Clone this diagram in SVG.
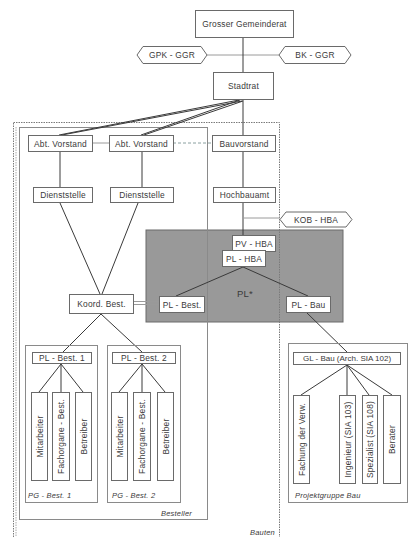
<svg xmlns="http://www.w3.org/2000/svg" width="419" height="537" viewBox="0 0 419 537">
<style>
text{font-family:"Liberation Sans",Arial,sans-serif;font-size:8.4px;letter-spacing:0.2px;fill:#3a3a3a;text-anchor:middle;dominant-baseline:central}
.box{fill:#fff;stroke:#6a6a6a;stroke-width:1}
.hex{fill:#fff;stroke:#6a6a6a;stroke-width:1}
.grp{fill:none;stroke:#8a8a8a;stroke-width:1}
.lbl{font-style:italic;text-anchor:start}
.lblr{font-style:italic;text-anchor:end}
.ln{stroke:#3a3a3a;stroke-width:1;fill:none}
.lt{stroke:#9a9a9a;stroke-width:1;fill:none}
.dash{stroke:#8aa0a0;stroke-width:1;stroke-dasharray:3 2;fill:none}
</style>
<rect width="419" height="537" fill="#fff"/>

<g id="pl-area">
<rect x="146" y="230" width="197" height="92" fill="#999999" stroke="#6a6a6a"/>
<text x="245" y="293" style="font-size:9.5px">PL*</text>
</g>

<g id="bauten">
<rect x="13.5" y="122.5" width="266" height="425" fill="none" stroke="#7a7a7a" stroke-dasharray="1.5 1"/>
<line x1="16" y1="127" x2="16" y2="537" stroke="#aaa" stroke-dasharray="1.5 1"/>
<text class="lblr" x="275" y="532" style="font-size:7.5px">Bauten</text>
</g>
<g id="besteller">
<rect class="grp" x="19.5" y="127.5" width="188" height="392"/>
<text class="lblr" x="192" y="513" style="font-size:7.5px">Besteller</text>
</g>

<g id="connectors">
<line class="lt" x1="207" y1="55" x2="279" y2="55"/>
<line class="ln" x1="243" y1="38" x2="243" y2="72"/>
<line class="ln" x1="243" y1="100" x2="243" y2="135"/>
<line class="ln" x1="239" y1="100" x2="59" y2="135"/>
<line class="ln" x1="242" y1="101" x2="62" y2="135"/>
<line class="ln" x1="240" y1="100" x2="141" y2="135"/>
<line class="ln" x1="243" y1="101" x2="144" y2="135"/>
<line class="lt" x1="93" y1="143" x2="109" y2="143" stroke="#c9a0a8"/>
<line class="dash" x1="173" y1="143" x2="212" y2="143"/>
<line class="ln" x1="60" y1="152" x2="60" y2="187"/>
<line class="ln" x1="142" y1="152" x2="142" y2="187"/>
<line class="ln" x1="243" y1="152" x2="243" y2="187"/>
<line class="ln" x1="60" y1="203" x2="100" y2="294"/>
<line class="ln" x1="138" y1="203" x2="102" y2="294"/>
<line class="ln" x1="243" y1="203" x2="243" y2="235"/>
<line class="lt" x1="243" y1="218" x2="280" y2="218"/>
<line class="ln" x1="101" y1="314" x2="63" y2="352"/>
<line class="ln" x1="101" y1="314" x2="142" y2="352"/>
<line class="lt" x1="133" y1="301.5" x2="159" y2="301.5"/>
<line class="lt" x1="133" y1="304.5" x2="159" y2="304.5"/>
<line class="ln" x1="243" y1="267" x2="176" y2="296"/>
<line class="ln" x1="243" y1="267" x2="308" y2="296"/>
<line class="ln" x1="307" y1="313" x2="347" y2="352"/>
<line class="ln" x1="61" y1="364" x2="39" y2="392"/>
<line class="ln" x1="61" y1="364" x2="61" y2="392"/>
<line class="ln" x1="61" y1="364" x2="83" y2="392"/>
<line class="ln" x1="142" y1="364" x2="119" y2="392"/>
<line class="ln" x1="142" y1="364" x2="142" y2="392"/>
<line class="ln" x1="142" y1="364" x2="165" y2="392"/>
<line class="ln" x1="347" y1="365" x2="301" y2="395"/>
<line class="ln" x1="347" y1="365" x2="347" y2="395"/>
<line class="ln" x1="347" y1="365" x2="369" y2="395"/>
<line class="ln" x1="347" y1="365" x2="392" y2="395"/>
</g>

<g id="grosser-gemeinderat"><rect class="box" x="195.5" y="10.5" width="98" height="27"/><text x="244.5" y="24">Grosser Gemeinderat</text></g>
<g id="gpk-ggr"><polygon class="hex" points="137,55 143,46.5 201,46.5 207,55 201,63.5 143,63.5"/><text x="172" y="55">GPK - GGR</text></g>
<g id="bk-ggr"><polygon class="hex" points="279,55 285,46.5 345,46.5 351,55 345,63.5 285,63.5"/><text x="315" y="55">BK - GGR</text></g>
<g id="stadtrat"><rect class="box" x="213.5" y="72.5" width="60" height="27"/><text x="243.5" y="86">Stadtrat</text></g>

<g id="abt-vorstand-1"><rect class="box" x="28.5" y="135.5" width="64" height="16"/><text x="60.5" y="143.5">Abt. Vorstand</text></g>
<g id="abt-vorstand-2"><rect class="box" x="109.5" y="135.5" width="64" height="16"/><text x="141.5" y="143.5">Abt. Vorstand</text></g>
<g id="bauvorstand"><rect class="box" x="212.5" y="135.5" width="63" height="16"/><text x="244" y="143.5">Bauvorstand</text></g>

<g id="dienststelle-1"><rect class="box" x="33.5" y="187.5" width="59" height="15"/><text x="63" y="195">Dienststelle</text></g>
<g id="dienststelle-2"><rect class="box" x="110.5" y="187.5" width="63" height="15"/><text x="142" y="195">Dienststelle</text></g>
<g id="hochbauamt"><rect class="box" x="213.5" y="187.5" width="62" height="15"/><text x="244.5" y="195">Hochbauamt</text></g>
<g id="kob-hba"><polygon class="hex" points="280,219.5 286,212 346,212 352,219.5 346,227 286,227"/><text x="316" y="219.5">KOB - HBA</text></g>

<g id="pv-hba"><rect class="box" x="232.5" y="235.5" width="43" height="16"/><text x="254" y="243.5">PV - HBA</text></g>
<g id="pl-hba"><rect class="box" x="222.5" y="250.5" width="43" height="16"/><text x="244" y="258.5">PL - HBA</text></g>
<g id="koord-best"><rect class="box" x="69.5" y="294.5" width="64" height="19"/><text x="101.5" y="304">Koord. Best.</text></g>
<g id="pl-best"><rect class="box" x="159.5" y="296.5" width="45" height="16"/><text x="182" y="304.5">PL - Best.</text></g>
<g id="pl-bau"><rect class="box" x="286.5" y="296.5" width="44" height="16"/><text x="308.5" y="304.5">PL - Bau</text></g>

<g id="pg-best-1">
<rect class="grp" x="25.5" y="345.5" width="72" height="157"/>
<text class="lbl" x="28" y="495" style="font-size:7.5px">PG - Best. 1</text>
</g>
<g id="pl-best-1"><rect class="box" x="32.5" y="352.5" width="59" height="11"/><text x="62" y="358">PL - Best. 1</text></g>
<g id="mitarbeiter-1"><rect class="box" x="31.5" y="392.5" width="16" height="88"/><text transform="translate(39.5 436.5) rotate(-90)">Mitarbeiter</text></g>
<g id="fachorgane-1"><rect class="box" x="52.5" y="392.5" width="17" height="88"/><text transform="translate(61 436.5) rotate(-90)">Fachorgane - Best.</text></g>
<g id="betreiber-1"><rect class="box" x="75.5" y="392.5" width="16" height="88"/><text transform="translate(83.5 436.5) rotate(-90)">Betreiber</text></g>

<g id="pg-best-2">
<rect class="grp" x="107.5" y="345.5" width="73" height="157"/>
<text class="lbl" x="112" y="495" style="font-size:7.5px">PG - Best. 2</text>
</g>
<g id="pl-best-2"><rect class="box" x="112.5" y="352.5" width="63" height="11"/><text x="144" y="358">PL - Best. 2</text></g>
<g id="mitarbeiter-2"><rect class="box" x="111.5" y="392.5" width="16" height="88"/><text transform="translate(119.5 436.5) rotate(-90)">Mitarbeiter</text></g>
<g id="fachorgane-2"><rect class="box" x="133.5" y="392.5" width="17" height="88"/><text transform="translate(142 436.5) rotate(-90)">Fachorgane - Best.</text></g>
<g id="betreiber-2"><rect class="box" x="157.5" y="392.5" width="16" height="88"/><text transform="translate(165.5 436.5) rotate(-90)">Betreiber</text></g>

<g id="projektgruppe-bau">
<rect class="grp" x="288.5" y="343.5" width="119" height="159"/>
<text class="lbl" x="295" y="495" style="font-size:7.5px">Projektgruppe Bau</text>
</g>
<g id="gl-bau"><rect class="box" x="293.5" y="352.5" width="107" height="12"/><text x="347" y="358.5" style="font-size:8px;letter-spacing:0">GL - Bau (Arch. SIA 102)</text></g>
<g id="fachung"><rect class="box" x="293.5" y="395.5" width="16" height="88"/><text transform="translate(301.5 439.5) rotate(-90)">Fachung der Verw.</text></g>
<g id="ingenieur"><rect class="box" x="339.5" y="395.5" width="16" height="88"/><text transform="translate(347.5 439.5) rotate(-90)">Ingenieur (SIA 103)</text></g>
<g id="spezialist"><rect class="box" x="362.5" y="395.5" width="15" height="88"/><text transform="translate(370 439.5) rotate(-90)">Spezialist (SIA 108)</text></g>
<g id="berater"><rect class="box" x="383.5" y="395.5" width="17" height="88"/><text transform="translate(392 439.5) rotate(-90)">Berater</text></g>
</svg>
